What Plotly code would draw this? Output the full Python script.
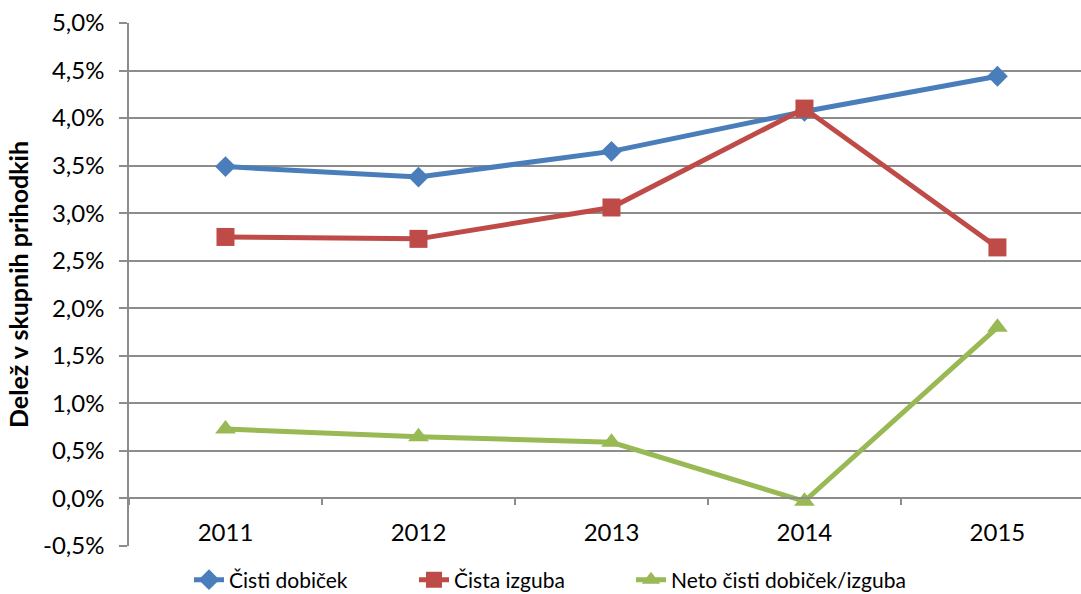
import plotly.graph_objects as go

years = ["2011", "2012", "2013", "2014", "2015"]
cisti_dobicek = [0.0349, 0.0338, 0.0365, 0.0407, 0.0444]
cista_izguba = [0.0275, 0.0273, 0.0306, 0.0410, 0.0264]
neto = [0.0073, 0.0065, 0.0059, -0.0003, 0.0180]

y_tickvals = [-0.005, 0.0, 0.005, 0.01, 0.015, 0.02, 0.025, 0.03, 0.035, 0.04, 0.045, 0.05]
y_ticktext = ["-0,5%", "0,0%", "0,5%", "1,0%", "1,5%", "2,0%", "2,5%", "3,0%", "3,5%", "4,0%", "4,5%", "5,0%"]

series = [
    ("Čisti dobiček", cisti_dobicek, "#4A7EBB", "diamond", 16, "legend"),
    ("Čista izguba", cista_izguba, "#BE4B48", "square", 18, "legend2"),
    ("Neto čisti dobiček/izguba", neto, "#98B954", "triangle-up", 18, "legend3"),
]
legend_left_px = [189, 414, 631]

FONT = "Lato"
W, H = 1081, 594
fig = go.Figure()
for name, vals, color, sym, sz, lg in series:
    fig.add_trace(go.Scatter(
        x=years, y=vals, name=name, mode="lines+markers", legend=lg,
        line=dict(color=color, width=5),
        marker=dict(symbol=sym, size=sz, color=color),
    ))

mt, mb = 23, 48
ymin, ymax = -0.005, 0.05
zero_pos = (0 - ymin) / (ymax - ymin)

legend_common = dict(orientation="h", xref="container", yref="container",
                     y=(H - 580) / H, yanchor="middle", xanchor="left",
                     font=dict(size=21), itemwidth=30, bgcolor="rgba(0,0,0,0)")

fig.update_layout(
    width=W, height=H,
    margin=dict(l=129, r=0, t=mt, b=mb),
    paper_bgcolor="white", plot_bgcolor="white",
    font=dict(family=FONT, size=24, color="black"),
    showlegend=True,
    legend=dict(x=legend_left_px[0] / W, **legend_common),
    legend2=dict(x=legend_left_px[1] / W, **legend_common),
    legend3=dict(x=legend_left_px[2] / W, **legend_common),
    xaxis=dict(
        type="category", range=[-0.5, 4.433],
        anchor="free", position=zero_pos, automargin=False,
        showline=True, linecolor="#8c8c8c", linewidth=1.5,
        ticks="outside", tickson="boundaries", ticklen=6, tickcolor="#8c8c8c", tickwidth=1.5,
        showgrid=False, ticklabelstandoff=13,
        tickfont=dict(size=24),
    ),
    yaxis=dict(
        range=[ymin, ymax], tickvals=y_tickvals, ticktext=y_ticktext, automargin=False,
        showline=True, linecolor="#8c8c8c", linewidth=1.5,
        ticks="outside", ticklen=8, tickcolor="#8c8c8c", tickwidth=1.5,
        showgrid=True, gridcolor="#8c8c8c", gridwidth=1.5,
        zeroline=False, ticklabelstandoff=10,
        title=dict(text="<b>Delež v skupnih prihodkih</b>", font=dict(size=25), standoff=7),
        tickfont=dict(size=24),
    ),
)

fig.write_html("out.html", config={"displayModeBar": False},
               post_script="document.body.style.margin='0px';")
